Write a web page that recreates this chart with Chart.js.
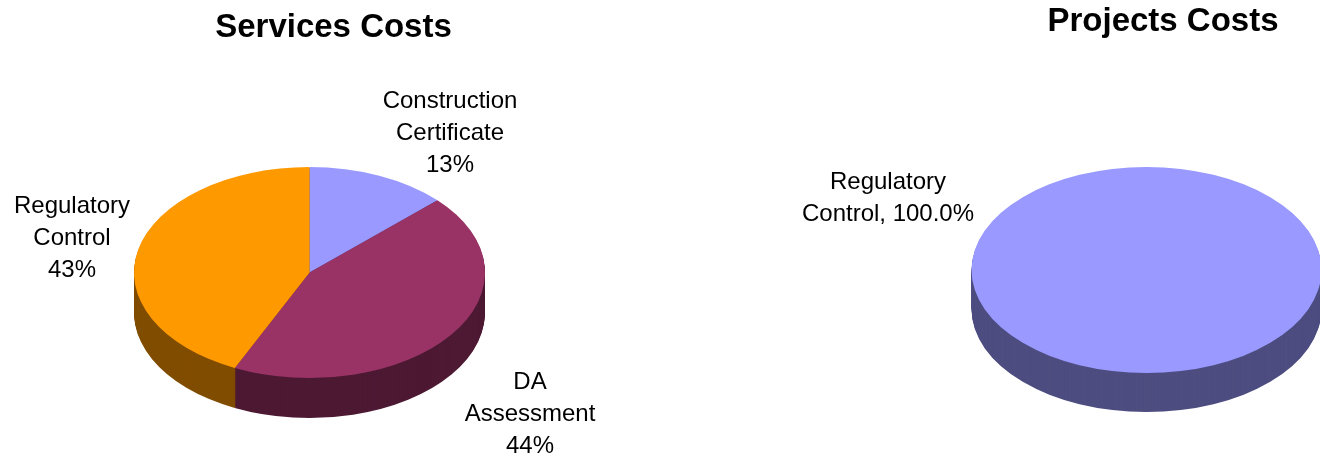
<!DOCTYPE html>
<html>
<head>
<meta charset="utf-8">
<style>
    html, body { margin: 0; padding: 0; background: #fff; width: 1320px; height: 459px; overflow: hidden; }
    canvas { position: absolute; top: 0; }
    #services { left: 0; }
    #projects { left: 660px; }
</style>
<script src="https://cdn.jsdelivr.net/npm/chart.js@4"></script>
</head>
<body>
<canvas id="services" width="660" height="459"></canvas>
<canvas id="projects" width="660" height="459"></canvas>
<script>
const servicesCategories = ['Construction Certificate', 'DA Assessment', 'Regulatory Control'];
const servicesValues = [13, 44, 43];
const servicesColors = ['#9999FF', '#993366', '#FF9900'];
const servicesSideColors = ['#4D4D80', '#4D1933', '#804D00'];

const projectsCategories = ['Regulatory Control'];
const projectsValues = [100];
const projectsColors = ['#9999FF'];
const projectsSideColors = ['#4D4D80'];

const fontFamily = '"Liberation Sans", Arial, sans-serif';

// tilts the flat pie and stacks darker copies underneath for the 3D rim
const tiltedPie = {
    id: 'tiltedPie',
    beforeDatasetDraw(chart, args, opts) {
        const ctx = chart.ctx;
        const arcs = args.meta.data;

        const drawAt = (offset, colors) => {
            ctx.save();
            ctx.translate(opts.x, opts.y + offset);
            ctx.scale(1, opts.ry / arcs[0].outerRadius);
            ctx.translate(-arcs[0].x, -arcs[0].y);
            arcs.forEach((arc, i) => {
                const original = arc.options;
                arc.options = {...original, backgroundColor: colors ? colors[i] : original.backgroundColor};
                arc.draw(ctx);
                arc.options = original;
            });
            ctx.restore();
        };

        for (let d = opts.depth; d > 0; d--)
            drawAt(d, opts.sideColors);
        drawAt(0, null);
        return false;
    },
    afterDraw(chart, args, opts) {
        const ctx = chart.ctx;
        ctx.save();
        ctx.fillStyle = '#000';
        ctx.textAlign = 'center';
        ctx.textBaseline = 'middle';
        ctx.font = '24px ' + fontFamily;
        opts.labels.forEach(label => {
            label.lines.forEach((line, i) => {
                ctx.fillText(line, label.x, label.y + i * 32);
            });
        });
        ctx.restore();
    }
};

function generatePie(id, title, categories, values, colors, options) {
    new Chart(document.getElementById(id), {
        type: 'pie',
        data: {
            labels: categories,
            datasets: [{
                data: values,
                backgroundColor: colors,
                borderWidth: 0
            }]
        },
        options: {
            responsive: false,
            animation: false,
            events: [],
            radius: options.rx,
            layout: {padding: options.padding},
            plugins: {
                legend: {display: false},
                tooltip: {enabled: false},
                title: {
                    display: true,
                    text: title,
                    color: '#000',
                    font: {family: fontFamily, size: 33, weight: 'bold'},
                    padding: {top: options.titleTop, bottom: 0}
                },
                tiltedPie: options.pie
            }
        },
        plugins: [tiltedPie]
    });
}

function pieLabel(category, value) {
    return [...category.split(' '), value + '%'];
}

generatePie('services', 'Services Costs', servicesCategories, servicesValues, servicesColors, {
    rx: 175.5,
    padding: {left: 7},
    titleTop: 8,
    pie: {
        x: 309.5,
        y: 272.5,
        ry: 105.5,
        depth: 40,
        sideColors: servicesSideColors,
        labels: [
            {lines: pieLabel(servicesCategories[0], servicesValues[0]), x: 450, y: 101},
            {lines: pieLabel(servicesCategories[1], servicesValues[1]), x: 530, y: 382},
            {lines: pieLabel(servicesCategories[2], servicesValues[2]), x: 72, y: 206}
        ]
    }
});

generatePie('projects', 'Projects Costs', projectsCategories, projectsValues, projectsColors, {
    rx: 175,
    padding: {left: 346},
    titleTop: 2,
    pie: {
        x: 486.5,
        y: 270,
        ry: 103,
        depth: 39,
        sideColors: projectsSideColors,
        labels: [
            {lines: ['Regulatory', 'Control, ' + projectsValues[0].toFixed(1) + '%'], x: 228, y: 182}
        ]
    }
});
</script>
</body>
</html>
